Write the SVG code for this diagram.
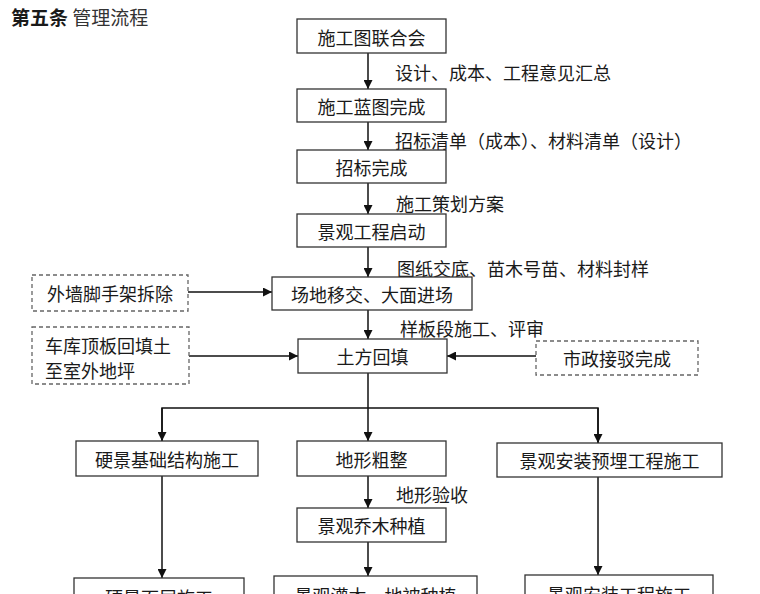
<svg xmlns="http://www.w3.org/2000/svg" width="760" height="594" viewBox="0 0 760 594">
<defs>
<marker id="ah" viewBox="0 0 10 10" refX="10" refY="5" markerWidth="9" markerHeight="9" markerUnits="userSpaceOnUse" orient="auto"><path d="M0,0 L10,5 L0,10 z" fill="#111"/></marker>
<style>
text{font-family:"Noto Sans CJK SC","Noto Sans",sans-serif;font-size:18px;fill:#1a1a1a}
.c{text-anchor:middle;dominant-baseline:central}
.l{dominant-baseline:central}
.box{fill:#fff;stroke:#333;stroke-width:1.3}
.dash{fill:#fff;stroke:#666;stroke-width:1.3;stroke-dasharray:4 3}
.ln{fill:none;stroke:#111;stroke-width:1.5}
.ar{fill:none;stroke:#111;stroke-width:1.5;marker-end:url(#ah)}
</style>
</defs>
<rect width="760" height="594" fill="#fff"/>
<g id="title"><text x="11" y="16" class="l" style="font-size:19px"><tspan font-weight="bold">第五条</tspan> <tspan fill="#333">管理流程</tspan></text></g>

<g id="connectors">
<line class="ar" x1="368" y1="53" x2="368" y2="89"/>
<line class="ar" x1="368" y1="122" x2="368" y2="150"/>
<line class="ar" x1="368" y1="183" x2="368" y2="214"/>
<line class="ar" x1="368" y1="247" x2="368" y2="277"/>
<line class="ar" x1="368" y1="310" x2="368" y2="339"/>
<line class="ar" x1="188" y1="292" x2="272" y2="292"/>
<line class="ar" x1="189" y1="356" x2="298" y2="356"/>
<line class="ar" x1="536" y1="356" x2="447" y2="356"/>
<polyline class="ln" points="368,373 368,408"/>
<polyline class="ln" points="162,441 162,408 598,408 598,443"/>
<line class="ar" x1="162" y1="408" x2="162" y2="441"/>
<line class="ar" x1="368" y1="408" x2="368" y2="441"/>
<line class="ar" x1="598" y1="408" x2="598" y2="443"/>
<line class="ar" x1="368" y1="476" x2="368" y2="508"/>
<line class="ar" x1="162" y1="476" x2="162" y2="578"/>
<line class="ar" x1="368" y1="542" x2="368" y2="576"/>
<line class="ar" x1="598" y1="477" x2="598" y2="575"/>
</g>

<g id="labels">
<text x="395" y="72" class="l">设计、成本、工程意见汇总</text>
<text x="395" y="140" class="l">招标清单（成本）、材料清单（设计）</text>
<text x="396" y="203" class="l">施工策划方案</text>
<text x="397" y="268" class="l">图纸交底、苗木号苗、材料封样</text>
<text x="400" y="328" class="l">样板段施工、评审</text>
<text x="396" y="494" class="l">地形验收</text>
</g>

<g id="n1"><rect class="box" x="297" y="19" width="149" height="34"/><text class="c" x="371.5" y="37">施工图联合会</text></g>
<g id="n2"><rect class="box" x="297" y="89" width="149" height="33"/><text class="c" x="371.5" y="106">施工蓝图完成</text></g>
<g id="n3"><rect class="box" x="297" y="150" width="149" height="33"/><text class="c" x="371.5" y="167">招标完成</text></g>
<g id="n4"><rect class="box" x="297" y="214" width="149" height="33"/><text class="c" x="371.5" y="231">景观工程启动</text></g>
<g id="n5"><rect class="box" x="272" y="277" width="200" height="33"/><text class="c" x="372" y="294">场地移交、大面进场</text></g>
<g id="n5a"><rect class="dash" x="32" y="275" width="156" height="36"/><text class="c" x="110" y="293">外墙脚手架拆除</text></g>
<g id="n6"><rect class="box" x="298" y="339" width="149" height="34"/><text class="c" x="372.5" y="356">土方回填</text></g>
<g id="n6a"><rect class="dash" x="32" y="327" width="157" height="57"/><text class="l" x="45" y="345">车库顶板回填土</text><text class="l" x="45" y="370">至室外地坪</text></g>
<g id="n6b"><rect class="dash" x="536" y="341" width="162" height="34"/><text class="c" x="617" y="358">市政接驳完成</text></g>
<g id="n7"><rect class="box" x="76" y="441" width="182" height="35"/><text class="c" x="167" y="459">硬景基础结构施工</text></g>
<g id="n8"><rect class="box" x="297" y="441" width="149" height="35"/><text class="c" x="371.5" y="459">地形粗整</text></g>
<g id="n9"><rect class="box" x="497" y="443" width="225" height="34"/><text class="c" x="609.5" y="460">景观安装预埋工程施工</text></g>
<g id="n10"><rect class="box" x="297" y="508" width="149" height="34"/><text class="c" x="371.5" y="525">景观乔木种植</text></g>
<g id="n11"><rect class="box" x="74" y="578" width="170" height="34"/><text class="c" x="159" y="597">硬景面层施工</text></g>
<g id="n12"><rect class="box" x="274" y="576" width="203" height="34"/><text class="c" x="375.5" y="595">景观灌木、地被种植</text></g>
<g id="n13"><rect class="box" x="525" y="575" width="188" height="34"/><text class="c" x="619" y="594">景观安装工程施工</text></g>
</svg>
